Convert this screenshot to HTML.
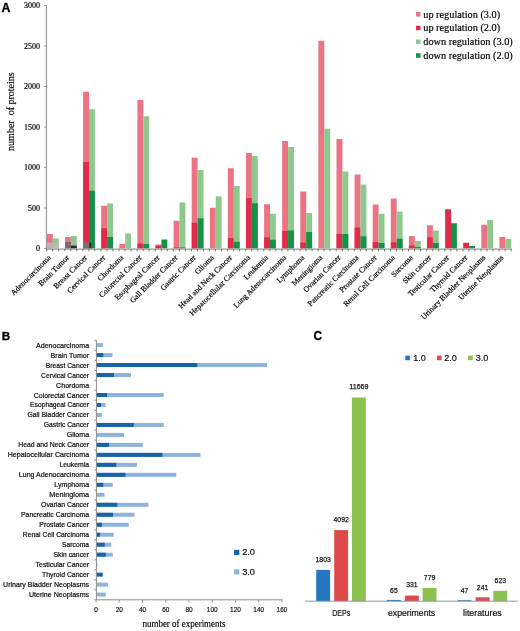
<!DOCTYPE html>
<html><head><meta charset="utf-8"><style>
html,body{margin:0;padding:0;background:#fff;}
svg{display:block;will-change:transform;}
</style></head><body>
<svg width="520" height="631" viewBox="0 0 520 631" shape-rendering="auto">
<rect x="46.90" y="234.00" width="5.90" height="14.40" fill="#ec7383"/>
<rect x="52.80" y="238.30" width="5.90" height="10.10" fill="#8dc98d"/>
<rect x="65.00" y="237.00" width="5.90" height="11.40" fill="#ec7383"/>
<rect x="70.90" y="236.00" width="5.90" height="12.40" fill="#8dc98d"/>
<rect x="83.10" y="91.75" width="5.90" height="156.65" fill="#ec7383"/>
<rect x="83.10" y="162.00" width="5.90" height="86.40" fill="#e02c4a"/>
<rect x="89.00" y="109.25" width="5.90" height="139.15" fill="#8dc98d"/>
<rect x="89.00" y="190.75" width="5.90" height="57.65" fill="#159247"/>
<rect x="101.20" y="205.75" width="5.90" height="42.65" fill="#ec7383"/>
<rect x="101.20" y="228.25" width="5.90" height="20.15" fill="#e02c4a"/>
<rect x="107.10" y="203.50" width="5.90" height="44.90" fill="#8dc98d"/>
<rect x="107.10" y="237.00" width="5.90" height="11.40" fill="#159247"/>
<rect x="119.30" y="244.00" width="5.90" height="4.40" fill="#ec7383"/>
<rect x="125.20" y="233.50" width="5.90" height="14.90" fill="#8dc98d"/>
<rect x="137.40" y="100.00" width="5.90" height="148.40" fill="#ec7383"/>
<rect x="137.40" y="243.50" width="5.90" height="4.90" fill="#e02c4a"/>
<rect x="143.30" y="116.25" width="5.90" height="132.15" fill="#8dc98d"/>
<rect x="143.30" y="244.00" width="5.90" height="4.40" fill="#159247"/>
<rect x="155.50" y="244.50" width="5.90" height="3.90" fill="#ec7383"/>
<rect x="155.50" y="245.80" width="5.90" height="2.60" fill="#e02c4a"/>
<rect x="161.40" y="239.50" width="5.90" height="8.90" fill="#159247"/>
<rect x="173.60" y="220.75" width="5.90" height="27.65" fill="#ec7383"/>
<rect x="173.60" y="247.50" width="5.90" height="0.90" fill="#e02c4a"/>
<rect x="179.50" y="202.50" width="5.90" height="45.90" fill="#8dc98d"/>
<rect x="179.50" y="247.50" width="5.90" height="0.90" fill="#159247"/>
<rect x="191.70" y="157.75" width="5.90" height="90.65" fill="#ec7383"/>
<rect x="191.70" y="222.75" width="5.90" height="25.65" fill="#e02c4a"/>
<rect x="197.60" y="170.00" width="5.90" height="78.40" fill="#8dc98d"/>
<rect x="197.60" y="218.25" width="5.90" height="30.15" fill="#159247"/>
<rect x="209.80" y="207.75" width="5.90" height="40.65" fill="#ec7383"/>
<rect x="215.70" y="196.25" width="5.90" height="52.15" fill="#8dc98d"/>
<rect x="227.90" y="168.25" width="5.90" height="80.15" fill="#ec7383"/>
<rect x="227.90" y="238.00" width="5.90" height="10.40" fill="#e02c4a"/>
<rect x="233.80" y="186.00" width="5.90" height="62.40" fill="#8dc98d"/>
<rect x="233.80" y="241.75" width="5.90" height="6.65" fill="#159247"/>
<rect x="246.00" y="153.00" width="5.90" height="95.40" fill="#ec7383"/>
<rect x="246.00" y="198.00" width="5.90" height="50.40" fill="#e02c4a"/>
<rect x="251.90" y="156.00" width="5.90" height="92.40" fill="#8dc98d"/>
<rect x="251.90" y="203.25" width="5.90" height="45.15" fill="#159247"/>
<rect x="264.10" y="204.25" width="5.90" height="44.15" fill="#ec7383"/>
<rect x="264.10" y="237.25" width="5.90" height="11.15" fill="#e02c4a"/>
<rect x="270.00" y="213.75" width="5.90" height="34.65" fill="#8dc98d"/>
<rect x="270.00" y="239.75" width="5.90" height="8.65" fill="#159247"/>
<rect x="282.20" y="141.00" width="5.90" height="107.40" fill="#ec7383"/>
<rect x="282.20" y="231.00" width="5.90" height="17.40" fill="#e02c4a"/>
<rect x="288.10" y="147.00" width="5.90" height="101.40" fill="#8dc98d"/>
<rect x="288.10" y="230.50" width="5.90" height="17.90" fill="#159247"/>
<rect x="300.30" y="191.50" width="5.90" height="56.90" fill="#ec7383"/>
<rect x="300.30" y="242.50" width="5.90" height="5.90" fill="#e02c4a"/>
<rect x="306.20" y="213.00" width="5.90" height="35.40" fill="#8dc98d"/>
<rect x="306.20" y="232.00" width="5.90" height="16.40" fill="#159247"/>
<rect x="318.40" y="40.75" width="5.90" height="207.65" fill="#ec7383"/>
<rect x="324.30" y="128.75" width="5.90" height="119.65" fill="#8dc98d"/>
<rect x="336.50" y="139.00" width="5.90" height="109.40" fill="#ec7383"/>
<rect x="336.50" y="234.00" width="5.90" height="14.40" fill="#e02c4a"/>
<rect x="342.40" y="171.50" width="5.90" height="76.90" fill="#8dc98d"/>
<rect x="342.40" y="234.00" width="5.90" height="14.40" fill="#159247"/>
<rect x="354.60" y="174.50" width="5.90" height="73.90" fill="#ec7383"/>
<rect x="354.60" y="227.50" width="5.90" height="20.90" fill="#e02c4a"/>
<rect x="360.50" y="184.50" width="5.90" height="63.90" fill="#8dc98d"/>
<rect x="360.50" y="236.25" width="5.90" height="12.15" fill="#159247"/>
<rect x="372.70" y="204.50" width="5.90" height="43.90" fill="#ec7383"/>
<rect x="372.70" y="242.00" width="5.90" height="6.40" fill="#e02c4a"/>
<rect x="378.60" y="213.75" width="5.90" height="34.65" fill="#8dc98d"/>
<rect x="378.60" y="243.00" width="5.90" height="5.40" fill="#159247"/>
<rect x="390.80" y="198.50" width="5.90" height="49.90" fill="#ec7383"/>
<rect x="390.80" y="242.25" width="5.90" height="6.15" fill="#e02c4a"/>
<rect x="396.70" y="211.75" width="5.90" height="36.65" fill="#8dc98d"/>
<rect x="396.70" y="238.75" width="5.90" height="9.65" fill="#159247"/>
<rect x="408.90" y="236.00" width="5.90" height="12.40" fill="#ec7383"/>
<rect x="408.90" y="245.50" width="5.90" height="2.90" fill="#e02c4a"/>
<rect x="414.80" y="241.00" width="5.90" height="7.40" fill="#8dc98d"/>
<rect x="414.80" y="247.00" width="5.90" height="1.40" fill="#159247"/>
<rect x="427.00" y="225.25" width="5.90" height="23.15" fill="#ec7383"/>
<rect x="427.00" y="237.25" width="5.90" height="11.15" fill="#e02c4a"/>
<rect x="432.90" y="230.50" width="5.90" height="17.90" fill="#8dc98d"/>
<rect x="432.90" y="243.00" width="5.90" height="5.40" fill="#159247"/>
<rect x="445.10" y="209.25" width="5.90" height="39.15" fill="#e02c4a"/>
<rect x="451.00" y="223.25" width="5.90" height="25.15" fill="#159247"/>
<rect x="463.20" y="242.75" width="5.90" height="5.65" fill="#e02c4a"/>
<rect x="469.10" y="246.00" width="5.90" height="2.40" fill="#159247"/>
<rect x="481.30" y="224.75" width="5.90" height="23.65" fill="#ec7383"/>
<rect x="487.20" y="220.00" width="5.90" height="28.40" fill="#8dc98d"/>
<rect x="499.40" y="237.00" width="5.90" height="11.40" fill="#ec7383"/>
<rect x="505.30" y="239.00" width="5.90" height="9.40" fill="#8dc98d"/>
<rect x="46.90" y="242.50" width="5.90" height="5.90" fill="#bfb0b4"/>
<rect x="52.80" y="242.50" width="5.90" height="5.90" fill="#b6bcb6"/>
<rect x="65.00" y="242.00" width="5.90" height="6.40" fill="#7a6a6e"/>
<rect x="70.90" y="242.50" width="5.90" height="3.20" fill="#a8b8a8"/>
<rect x="70.90" y="245.70" width="5.90" height="2.70" fill="#2a2a2a"/>
<rect x="83.10" y="242.50" width="5.90" height="5.90" fill="#7c7074"/>
<rect x="89.00" y="242.50" width="2.60" height="5.90" fill="#2e3a30"/>
<line x1="46.40" y1="5.00" x2="46.40" y2="249.50" stroke="#8c8c8c" stroke-width="1"/>
<line x1="44.30" y1="5.50" x2="46.40" y2="5.50" stroke="#8c8c8c" stroke-width="1"/>
<text x="40.00" y="8.30" font-size="8" font-family='"Liberation Serif", serif' text-anchor="end" fill="#000"  stroke="#000" stroke-width="0.18">3000</text>
<line x1="44.30" y1="46.00" x2="46.40" y2="46.00" stroke="#8c8c8c" stroke-width="1"/>
<text x="40.00" y="48.80" font-size="8" font-family='"Liberation Serif", serif' text-anchor="end" fill="#000"  stroke="#000" stroke-width="0.18">2500</text>
<line x1="44.30" y1="86.50" x2="46.40" y2="86.50" stroke="#8c8c8c" stroke-width="1"/>
<text x="40.00" y="89.30" font-size="8" font-family='"Liberation Serif", serif' text-anchor="end" fill="#000"  stroke="#000" stroke-width="0.18">2000</text>
<line x1="44.30" y1="127.00" x2="46.40" y2="127.00" stroke="#8c8c8c" stroke-width="1"/>
<text x="40.00" y="129.80" font-size="8" font-family='"Liberation Serif", serif' text-anchor="end" fill="#000"  stroke="#000" stroke-width="0.18">1500</text>
<line x1="44.30" y1="167.50" x2="46.40" y2="167.50" stroke="#8c8c8c" stroke-width="1"/>
<text x="40.00" y="170.30" font-size="8" font-family='"Liberation Serif", serif' text-anchor="end" fill="#000"  stroke="#000" stroke-width="0.18">1000</text>
<line x1="44.30" y1="208.00" x2="46.40" y2="208.00" stroke="#8c8c8c" stroke-width="1"/>
<text x="40.00" y="210.80" font-size="8" font-family='"Liberation Serif", serif' text-anchor="end" fill="#000"  stroke="#000" stroke-width="0.18">500</text>
<line x1="44.30" y1="248.50" x2="46.40" y2="248.50" stroke="#8c8c8c" stroke-width="1"/>
<text x="40.00" y="251.30" font-size="8" font-family='"Liberation Serif", serif' text-anchor="end" fill="#000"  stroke="#000" stroke-width="0.18">0</text>
<line x1="46.10" y1="249.10" x2="512.00" y2="249.10" stroke="#9a9a9a" stroke-width="1.4"/>
<line x1="46.60" y1="249.00" x2="46.60" y2="251.30" stroke="#7a7a7a" stroke-width="1.1"/>
<line x1="52.63" y1="249.00" x2="52.63" y2="251.30" stroke="#7a7a7a" stroke-width="1.1"/>
<line x1="58.67" y1="249.00" x2="58.67" y2="251.30" stroke="#7a7a7a" stroke-width="1.1"/>
<line x1="64.70" y1="249.00" x2="64.70" y2="251.30" stroke="#7a7a7a" stroke-width="1.1"/>
<line x1="70.73" y1="249.00" x2="70.73" y2="251.30" stroke="#7a7a7a" stroke-width="1.1"/>
<line x1="76.77" y1="249.00" x2="76.77" y2="251.30" stroke="#7a7a7a" stroke-width="1.1"/>
<line x1="82.80" y1="249.00" x2="82.80" y2="251.30" stroke="#7a7a7a" stroke-width="1.1"/>
<line x1="88.83" y1="249.00" x2="88.83" y2="251.30" stroke="#7a7a7a" stroke-width="1.1"/>
<line x1="94.86" y1="249.00" x2="94.86" y2="251.30" stroke="#7a7a7a" stroke-width="1.1"/>
<line x1="100.90" y1="249.00" x2="100.90" y2="251.30" stroke="#7a7a7a" stroke-width="1.1"/>
<line x1="106.93" y1="249.00" x2="106.93" y2="251.30" stroke="#7a7a7a" stroke-width="1.1"/>
<line x1="112.96" y1="249.00" x2="112.96" y2="251.30" stroke="#7a7a7a" stroke-width="1.1"/>
<line x1="119.00" y1="249.00" x2="119.00" y2="251.30" stroke="#7a7a7a" stroke-width="1.1"/>
<line x1="125.03" y1="249.00" x2="125.03" y2="251.30" stroke="#7a7a7a" stroke-width="1.1"/>
<line x1="131.06" y1="249.00" x2="131.06" y2="251.30" stroke="#7a7a7a" stroke-width="1.1"/>
<line x1="137.09" y1="249.00" x2="137.09" y2="251.30" stroke="#7a7a7a" stroke-width="1.1"/>
<line x1="143.13" y1="249.00" x2="143.13" y2="251.30" stroke="#7a7a7a" stroke-width="1.1"/>
<line x1="149.16" y1="249.00" x2="149.16" y2="251.30" stroke="#7a7a7a" stroke-width="1.1"/>
<line x1="155.19" y1="249.00" x2="155.19" y2="251.30" stroke="#7a7a7a" stroke-width="1.1"/>
<line x1="161.23" y1="249.00" x2="161.23" y2="251.30" stroke="#7a7a7a" stroke-width="1.1"/>
<line x1="167.26" y1="249.00" x2="167.26" y2="251.30" stroke="#7a7a7a" stroke-width="1.1"/>
<line x1="173.29" y1="249.00" x2="173.29" y2="251.30" stroke="#7a7a7a" stroke-width="1.1"/>
<line x1="179.33" y1="249.00" x2="179.33" y2="251.30" stroke="#7a7a7a" stroke-width="1.1"/>
<line x1="185.36" y1="249.00" x2="185.36" y2="251.30" stroke="#7a7a7a" stroke-width="1.1"/>
<line x1="191.39" y1="249.00" x2="191.39" y2="251.30" stroke="#7a7a7a" stroke-width="1.1"/>
<line x1="197.43" y1="249.00" x2="197.43" y2="251.30" stroke="#7a7a7a" stroke-width="1.1"/>
<line x1="203.46" y1="249.00" x2="203.46" y2="251.30" stroke="#7a7a7a" stroke-width="1.1"/>
<line x1="209.49" y1="249.00" x2="209.49" y2="251.30" stroke="#7a7a7a" stroke-width="1.1"/>
<line x1="215.52" y1="249.00" x2="215.52" y2="251.30" stroke="#7a7a7a" stroke-width="1.1"/>
<line x1="221.56" y1="249.00" x2="221.56" y2="251.30" stroke="#7a7a7a" stroke-width="1.1"/>
<line x1="227.59" y1="249.00" x2="227.59" y2="251.30" stroke="#7a7a7a" stroke-width="1.1"/>
<line x1="233.62" y1="249.00" x2="233.62" y2="251.30" stroke="#7a7a7a" stroke-width="1.1"/>
<line x1="239.66" y1="249.00" x2="239.66" y2="251.30" stroke="#7a7a7a" stroke-width="1.1"/>
<line x1="245.69" y1="249.00" x2="245.69" y2="251.30" stroke="#7a7a7a" stroke-width="1.1"/>
<line x1="251.72" y1="249.00" x2="251.72" y2="251.30" stroke="#7a7a7a" stroke-width="1.1"/>
<line x1="257.75" y1="249.00" x2="257.75" y2="251.30" stroke="#7a7a7a" stroke-width="1.1"/>
<line x1="263.79" y1="249.00" x2="263.79" y2="251.30" stroke="#7a7a7a" stroke-width="1.1"/>
<line x1="269.82" y1="249.00" x2="269.82" y2="251.30" stroke="#7a7a7a" stroke-width="1.1"/>
<line x1="275.85" y1="249.00" x2="275.85" y2="251.30" stroke="#7a7a7a" stroke-width="1.1"/>
<line x1="281.89" y1="249.00" x2="281.89" y2="251.30" stroke="#7a7a7a" stroke-width="1.1"/>
<line x1="287.92" y1="249.00" x2="287.92" y2="251.30" stroke="#7a7a7a" stroke-width="1.1"/>
<line x1="293.95" y1="249.00" x2="293.95" y2="251.30" stroke="#7a7a7a" stroke-width="1.1"/>
<line x1="299.99" y1="249.00" x2="299.99" y2="251.30" stroke="#7a7a7a" stroke-width="1.1"/>
<line x1="306.02" y1="249.00" x2="306.02" y2="251.30" stroke="#7a7a7a" stroke-width="1.1"/>
<line x1="312.05" y1="249.00" x2="312.05" y2="251.30" stroke="#7a7a7a" stroke-width="1.1"/>
<line x1="318.09" y1="249.00" x2="318.09" y2="251.30" stroke="#7a7a7a" stroke-width="1.1"/>
<line x1="324.12" y1="249.00" x2="324.12" y2="251.30" stroke="#7a7a7a" stroke-width="1.1"/>
<line x1="330.15" y1="249.00" x2="330.15" y2="251.30" stroke="#7a7a7a" stroke-width="1.1"/>
<line x1="336.18" y1="249.00" x2="336.18" y2="251.30" stroke="#7a7a7a" stroke-width="1.1"/>
<line x1="342.22" y1="249.00" x2="342.22" y2="251.30" stroke="#7a7a7a" stroke-width="1.1"/>
<line x1="348.25" y1="249.00" x2="348.25" y2="251.30" stroke="#7a7a7a" stroke-width="1.1"/>
<line x1="354.28" y1="249.00" x2="354.28" y2="251.30" stroke="#7a7a7a" stroke-width="1.1"/>
<line x1="360.32" y1="249.00" x2="360.32" y2="251.30" stroke="#7a7a7a" stroke-width="1.1"/>
<line x1="366.35" y1="249.00" x2="366.35" y2="251.30" stroke="#7a7a7a" stroke-width="1.1"/>
<line x1="372.38" y1="249.00" x2="372.38" y2="251.30" stroke="#7a7a7a" stroke-width="1.1"/>
<line x1="378.42" y1="249.00" x2="378.42" y2="251.30" stroke="#7a7a7a" stroke-width="1.1"/>
<line x1="384.45" y1="249.00" x2="384.45" y2="251.30" stroke="#7a7a7a" stroke-width="1.1"/>
<line x1="390.48" y1="249.00" x2="390.48" y2="251.30" stroke="#7a7a7a" stroke-width="1.1"/>
<line x1="396.51" y1="249.00" x2="396.51" y2="251.30" stroke="#7a7a7a" stroke-width="1.1"/>
<line x1="402.55" y1="249.00" x2="402.55" y2="251.30" stroke="#7a7a7a" stroke-width="1.1"/>
<line x1="408.58" y1="249.00" x2="408.58" y2="251.30" stroke="#7a7a7a" stroke-width="1.1"/>
<line x1="414.61" y1="249.00" x2="414.61" y2="251.30" stroke="#7a7a7a" stroke-width="1.1"/>
<line x1="420.65" y1="249.00" x2="420.65" y2="251.30" stroke="#7a7a7a" stroke-width="1.1"/>
<line x1="426.68" y1="249.00" x2="426.68" y2="251.30" stroke="#7a7a7a" stroke-width="1.1"/>
<line x1="432.71" y1="249.00" x2="432.71" y2="251.30" stroke="#7a7a7a" stroke-width="1.1"/>
<line x1="438.75" y1="249.00" x2="438.75" y2="251.30" stroke="#7a7a7a" stroke-width="1.1"/>
<line x1="444.78" y1="249.00" x2="444.78" y2="251.30" stroke="#7a7a7a" stroke-width="1.1"/>
<line x1="450.81" y1="249.00" x2="450.81" y2="251.30" stroke="#7a7a7a" stroke-width="1.1"/>
<line x1="456.84" y1="249.00" x2="456.84" y2="251.30" stroke="#7a7a7a" stroke-width="1.1"/>
<line x1="462.88" y1="249.00" x2="462.88" y2="251.30" stroke="#7a7a7a" stroke-width="1.1"/>
<line x1="468.91" y1="249.00" x2="468.91" y2="251.30" stroke="#7a7a7a" stroke-width="1.1"/>
<line x1="474.94" y1="249.00" x2="474.94" y2="251.30" stroke="#7a7a7a" stroke-width="1.1"/>
<line x1="480.98" y1="249.00" x2="480.98" y2="251.30" stroke="#7a7a7a" stroke-width="1.1"/>
<line x1="487.01" y1="249.00" x2="487.01" y2="251.30" stroke="#7a7a7a" stroke-width="1.1"/>
<line x1="493.04" y1="249.00" x2="493.04" y2="251.30" stroke="#7a7a7a" stroke-width="1.1"/>
<line x1="499.08" y1="249.00" x2="499.08" y2="251.30" stroke="#7a7a7a" stroke-width="1.1"/>
<line x1="505.11" y1="249.00" x2="505.11" y2="251.30" stroke="#7a7a7a" stroke-width="1.1"/>
<line x1="511.14" y1="249.00" x2="511.14" y2="251.30" stroke="#7a7a7a" stroke-width="1.1"/>
<text x="0.00" y="0.00" font-size="7.8" font-family='"Liberation Serif", serif' text-anchor="end" fill="#000" transform="translate(51.50,258.10) rotate(-45)" stroke="#000" stroke-width="0.18">Adenocarcinoma</text>
<text x="0.00" y="0.00" font-size="7.8" font-family='"Liberation Serif", serif' text-anchor="end" fill="#000" transform="translate(69.60,258.10) rotate(-45)" stroke="#000" stroke-width="0.18">Brain Tumor</text>
<text x="0.00" y="0.00" font-size="7.8" font-family='"Liberation Serif", serif' text-anchor="end" fill="#000" transform="translate(87.70,258.10) rotate(-45)" stroke="#000" stroke-width="0.18">Breast Cancer</text>
<text x="0.00" y="0.00" font-size="7.8" font-family='"Liberation Serif", serif' text-anchor="end" fill="#000" transform="translate(105.80,258.10) rotate(-45)" stroke="#000" stroke-width="0.18">Cervical Cancer</text>
<text x="0.00" y="0.00" font-size="7.8" font-family='"Liberation Serif", serif' text-anchor="end" fill="#000" transform="translate(123.90,258.10) rotate(-45)" stroke="#000" stroke-width="0.18">Chordoma</text>
<text x="0.00" y="0.00" font-size="7.8" font-family='"Liberation Serif", serif' text-anchor="end" fill="#000" transform="translate(142.00,258.10) rotate(-45)" stroke="#000" stroke-width="0.18">Colorectal Cancer</text>
<text x="0.00" y="0.00" font-size="7.8" font-family='"Liberation Serif", serif' text-anchor="end" fill="#000" transform="translate(160.10,258.10) rotate(-45)" stroke="#000" stroke-width="0.18">Esophageal Cancer</text>
<text x="0.00" y="0.00" font-size="7.8" font-family='"Liberation Serif", serif' text-anchor="end" fill="#000" transform="translate(178.20,258.10) rotate(-45)" stroke="#000" stroke-width="0.18">Gall Bladder Cancer</text>
<text x="0.00" y="0.00" font-size="7.8" font-family='"Liberation Serif", serif' text-anchor="end" fill="#000" transform="translate(196.30,258.10) rotate(-45)" stroke="#000" stroke-width="0.18">Gastric Cancer</text>
<text x="0.00" y="0.00" font-size="7.8" font-family='"Liberation Serif", serif' text-anchor="end" fill="#000" transform="translate(214.40,258.10) rotate(-45)" stroke="#000" stroke-width="0.18">Glioma</text>
<text x="0.00" y="0.00" font-size="7.8" font-family='"Liberation Serif", serif' text-anchor="end" fill="#000" transform="translate(232.50,258.10) rotate(-45)" stroke="#000" stroke-width="0.18">Head and Neck Cancer</text>
<text x="0.00" y="0.00" font-size="7.8" font-family='"Liberation Serif", serif' text-anchor="end" fill="#000" transform="translate(250.60,258.10) rotate(-45)" stroke="#000" stroke-width="0.18">Hepatocellular Carcinoma</text>
<text x="0.00" y="0.00" font-size="7.8" font-family='"Liberation Serif", serif' text-anchor="end" fill="#000" transform="translate(268.70,258.10) rotate(-45)" stroke="#000" stroke-width="0.18">Leukemia</text>
<text x="0.00" y="0.00" font-size="7.8" font-family='"Liberation Serif", serif' text-anchor="end" fill="#000" transform="translate(286.80,258.10) rotate(-45)" stroke="#000" stroke-width="0.18">Lung Adenocarcinoma</text>
<text x="0.00" y="0.00" font-size="7.8" font-family='"Liberation Serif", serif' text-anchor="end" fill="#000" transform="translate(304.90,258.10) rotate(-45)" stroke="#000" stroke-width="0.18">Lymphoma</text>
<text x="0.00" y="0.00" font-size="7.8" font-family='"Liberation Serif", serif' text-anchor="end" fill="#000" transform="translate(323.00,258.10) rotate(-45)" stroke="#000" stroke-width="0.18">Meningioma</text>
<text x="0.00" y="0.00" font-size="7.8" font-family='"Liberation Serif", serif' text-anchor="end" fill="#000" transform="translate(341.10,258.10) rotate(-45)" stroke="#000" stroke-width="0.18">Ovarian Cancer</text>
<text x="0.00" y="0.00" font-size="7.8" font-family='"Liberation Serif", serif' text-anchor="end" fill="#000" transform="translate(359.20,258.10) rotate(-45)" stroke="#000" stroke-width="0.18">Pancreatic Carcinoma</text>
<text x="0.00" y="0.00" font-size="7.8" font-family='"Liberation Serif", serif' text-anchor="end" fill="#000" transform="translate(377.30,258.10) rotate(-45)" stroke="#000" stroke-width="0.18">Prostate Cancer</text>
<text x="0.00" y="0.00" font-size="7.8" font-family='"Liberation Serif", serif' text-anchor="end" fill="#000" transform="translate(395.40,258.10) rotate(-45)" stroke="#000" stroke-width="0.18">Renal Cell Carcinoma</text>
<text x="0.00" y="0.00" font-size="7.8" font-family='"Liberation Serif", serif' text-anchor="end" fill="#000" transform="translate(413.50,258.10) rotate(-45)" stroke="#000" stroke-width="0.18">Sarcoma</text>
<text x="0.00" y="0.00" font-size="7.8" font-family='"Liberation Serif", serif' text-anchor="end" fill="#000" transform="translate(431.60,258.10) rotate(-45)" stroke="#000" stroke-width="0.18">Skin cancer</text>
<text x="0.00" y="0.00" font-size="7.8" font-family='"Liberation Serif", serif' text-anchor="end" fill="#000" transform="translate(449.70,258.10) rotate(-45)" stroke="#000" stroke-width="0.18">Testicular Cancer</text>
<text x="0.00" y="0.00" font-size="7.8" font-family='"Liberation Serif", serif' text-anchor="end" fill="#000" transform="translate(467.80,258.10) rotate(-45)" stroke="#000" stroke-width="0.18">Thyroid Cancer</text>
<text x="0.00" y="0.00" font-size="7.8" font-family='"Liberation Serif", serif' text-anchor="end" fill="#000" transform="translate(485.90,258.10) rotate(-45)" stroke="#000" stroke-width="0.18">Urinary Bladder Neoplasms</text>
<text x="0.00" y="0.00" font-size="7.8" font-family='"Liberation Serif", serif' text-anchor="end" fill="#000" transform="translate(504.00,258.10) rotate(-45)" stroke="#000" stroke-width="0.18">Uterine Neoplasms</text>
<text x="0.00" y="0.00" font-size="10" font-family='"Liberation Serif", serif' text-anchor="middle" fill="#000" transform="translate(14.2,111.6) rotate(-90)" stroke="#000" stroke-width="0.18">number&#160; of proteins</text>
<rect x="416.00" y="12.00" width="4.50" height="4.50" fill="#ec7383"/>
<text x="423.25" y="17.65" font-size="10.3" font-family='"Liberation Serif", serif' text-anchor="start" fill="#000"  stroke="#000" stroke-width="0.18">up regulation (3.0)</text>
<rect x="416.00" y="25.75" width="4.50" height="4.50" fill="#e02c4a"/>
<text x="423.25" y="31.40" font-size="10.3" font-family='"Liberation Serif", serif' text-anchor="start" fill="#000"  stroke="#000" stroke-width="0.18">up regulation (2.0)</text>
<rect x="416.00" y="39.50" width="4.50" height="4.50" fill="#8dc98d"/>
<text x="423.25" y="45.15" font-size="10.3" font-family='"Liberation Serif", serif' text-anchor="start" fill="#000"  stroke="#000" stroke-width="0.18">down regulation (3.0)</text>
<rect x="416.00" y="53.25" width="4.50" height="4.50" fill="#159247"/>
<text x="423.25" y="58.90" font-size="10.3" font-family='"Liberation Serif", serif' text-anchor="start" fill="#000"  stroke="#000" stroke-width="0.18">down regulation (2.0)</text>
<text x="1.60" y="11.80" font-size="12.3" font-family='"Liberation Sans", sans-serif' text-anchor="start" fill="#000" font-weight="bold" stroke="#000" stroke-width="0.3">A</text>
<rect x="96.50" y="343.10" width="6.50" height="4.00" fill="#8db3dc"/>
<text x="89.10" y="347.60" font-size="7.5" font-family='"Liberation Sans", sans-serif' text-anchor="end" fill="#111"  textLength="53.10" lengthAdjust="spacingAndGlyphs" stroke="#111" stroke-width="0.22">Adenocarcinoma</text>
<rect x="96.50" y="353.08" width="16.00" height="4.00" fill="#8db3dc"/>
<rect x="96.50" y="353.08" width="6.75" height="4.00" fill="#1563a8"/>
<text x="89.10" y="357.58" font-size="7.5" font-family='"Liberation Sans", sans-serif' text-anchor="end" fill="#111"  textLength="38.50" lengthAdjust="spacingAndGlyphs" stroke="#111" stroke-width="0.22">Brain Tumor</text>
<rect x="96.50" y="363.06" width="170.50" height="4.00" fill="#8db3dc"/>
<rect x="96.50" y="363.06" width="100.75" height="4.00" fill="#1563a8"/>
<text x="89.10" y="367.56" font-size="7.5" font-family='"Liberation Sans", sans-serif' text-anchor="end" fill="#111"  textLength="43.40" lengthAdjust="spacingAndGlyphs" stroke="#111" stroke-width="0.22">Breast Cancer</text>
<rect x="96.50" y="373.04" width="34.50" height="4.00" fill="#8db3dc"/>
<rect x="96.50" y="373.04" width="17.50" height="4.00" fill="#1563a8"/>
<text x="89.10" y="377.54" font-size="7.5" font-family='"Liberation Sans", sans-serif' text-anchor="end" fill="#111"  textLength="48.00" lengthAdjust="spacingAndGlyphs" stroke="#111" stroke-width="0.22">Cervical Cancer</text>
<rect x="96.50" y="383.02" width="0.50" height="4.00" fill="#8db3dc"/>
<text x="89.10" y="387.52" font-size="7.5" font-family='"Liberation Sans", sans-serif' text-anchor="end" fill="#111"  textLength="33.00" lengthAdjust="spacingAndGlyphs" stroke="#111" stroke-width="0.22">Chordoma</text>
<rect x="96.50" y="393.00" width="67.25" height="4.00" fill="#8db3dc"/>
<rect x="96.50" y="393.00" width="10.50" height="4.00" fill="#1563a8"/>
<text x="89.10" y="397.50" font-size="7.5" font-family='"Liberation Sans", sans-serif' text-anchor="end" fill="#111"  textLength="55.30" lengthAdjust="spacingAndGlyphs" stroke="#111" stroke-width="0.22">Colorectal Cancer</text>
<rect x="96.50" y="402.98" width="9.00" height="4.00" fill="#8db3dc"/>
<rect x="96.50" y="402.98" width="4.50" height="4.00" fill="#1563a8"/>
<text x="89.10" y="407.48" font-size="7.5" font-family='"Liberation Sans", sans-serif' text-anchor="end" fill="#111"  textLength="59.00" lengthAdjust="spacingAndGlyphs" stroke="#111" stroke-width="0.22">Esophageal Cancer</text>
<rect x="96.50" y="412.96" width="5.50" height="4.00" fill="#8db3dc"/>
<text x="89.10" y="417.46" font-size="7.5" font-family='"Liberation Sans", sans-serif' text-anchor="end" fill="#111"  textLength="61.70" lengthAdjust="spacingAndGlyphs" stroke="#111" stroke-width="0.22">Gall Bladder Cancer</text>
<rect x="96.50" y="422.94" width="67.25" height="4.00" fill="#8db3dc"/>
<rect x="96.50" y="422.94" width="37.25" height="4.00" fill="#1563a8"/>
<text x="89.10" y="427.44" font-size="7.5" font-family='"Liberation Sans", sans-serif' text-anchor="end" fill="#111"  textLength="45.30" lengthAdjust="spacingAndGlyphs" stroke="#111" stroke-width="0.22">Gastric Cancer</text>
<rect x="96.50" y="432.92" width="27.50" height="4.00" fill="#8db3dc"/>
<text x="89.10" y="437.42" font-size="7.5" font-family='"Liberation Sans", sans-serif' text-anchor="end" fill="#111"  textLength="22.40" lengthAdjust="spacingAndGlyphs" stroke="#111" stroke-width="0.22">Glioma</text>
<rect x="96.50" y="442.90" width="46.25" height="4.00" fill="#8db3dc"/>
<rect x="96.50" y="442.90" width="12.50" height="4.00" fill="#1563a8"/>
<text x="89.10" y="447.40" font-size="7.5" font-family='"Liberation Sans", sans-serif' text-anchor="end" fill="#111"  textLength="70.80" lengthAdjust="spacingAndGlyphs" stroke="#111" stroke-width="0.22">Head and Neck Cancer</text>
<rect x="96.50" y="452.88" width="104.00" height="4.00" fill="#8db3dc"/>
<rect x="96.50" y="452.88" width="66.00" height="4.00" fill="#1563a8"/>
<text x="89.10" y="457.38" font-size="7.5" font-family='"Liberation Sans", sans-serif' text-anchor="end" fill="#111"  textLength="81.40" lengthAdjust="spacingAndGlyphs" stroke="#111" stroke-width="0.22">Hepatocellular Carcinoma</text>
<rect x="96.50" y="462.86" width="40.50" height="4.00" fill="#8db3dc"/>
<rect x="96.50" y="462.86" width="19.75" height="4.00" fill="#1563a8"/>
<text x="89.10" y="467.36" font-size="7.5" font-family='"Liberation Sans", sans-serif' text-anchor="end" fill="#111"  textLength="29.70" lengthAdjust="spacingAndGlyphs" stroke="#111" stroke-width="0.22">Leukemia</text>
<rect x="96.50" y="472.84" width="79.75" height="4.00" fill="#8db3dc"/>
<rect x="96.50" y="472.84" width="29.00" height="4.00" fill="#1563a8"/>
<text x="89.10" y="477.34" font-size="7.5" font-family='"Liberation Sans", sans-serif' text-anchor="end" fill="#111"  textLength="70.30" lengthAdjust="spacingAndGlyphs" stroke="#111" stroke-width="0.22">Lung Adenocarcinoma</text>
<rect x="96.50" y="482.82" width="16.25" height="4.00" fill="#8db3dc"/>
<rect x="96.50" y="482.82" width="6.75" height="4.00" fill="#1563a8"/>
<text x="89.10" y="487.32" font-size="7.5" font-family='"Liberation Sans", sans-serif' text-anchor="end" fill="#111"  textLength="34.80" lengthAdjust="spacingAndGlyphs" stroke="#111" stroke-width="0.22">Lymphoma</text>
<rect x="96.50" y="492.80" width="8.00" height="4.00" fill="#8db3dc"/>
<text x="89.10" y="497.30" font-size="7.5" font-family='"Liberation Sans", sans-serif' text-anchor="end" fill="#111"  textLength="39.80" lengthAdjust="spacingAndGlyphs" stroke="#111" stroke-width="0.22">Meningioma</text>
<rect x="96.50" y="502.78" width="52.00" height="4.00" fill="#8db3dc"/>
<rect x="96.50" y="502.78" width="20.75" height="4.00" fill="#1563a8"/>
<text x="89.10" y="507.28" font-size="7.5" font-family='"Liberation Sans", sans-serif' text-anchor="end" fill="#111"  textLength="48.00" lengthAdjust="spacingAndGlyphs" stroke="#111" stroke-width="0.22">Ovarian Cancer</text>
<rect x="96.50" y="512.76" width="38.00" height="4.00" fill="#8db3dc"/>
<rect x="96.50" y="512.76" width="16.50" height="4.00" fill="#1563a8"/>
<text x="89.10" y="517.26" font-size="7.5" font-family='"Liberation Sans", sans-serif' text-anchor="end" fill="#111"  textLength="68.10" lengthAdjust="spacingAndGlyphs" stroke="#111" stroke-width="0.22">Pancreatic Carcinoma</text>
<rect x="96.50" y="522.74" width="32.25" height="4.00" fill="#8db3dc"/>
<rect x="96.50" y="522.74" width="5.50" height="4.00" fill="#1563a8"/>
<text x="89.10" y="527.24" font-size="7.5" font-family='"Liberation Sans", sans-serif' text-anchor="end" fill="#111"  textLength="49.80" lengthAdjust="spacingAndGlyphs" stroke="#111" stroke-width="0.22">Prostate Cancer</text>
<rect x="96.50" y="532.72" width="17.25" height="4.00" fill="#8db3dc"/>
<rect x="96.50" y="532.72" width="3.50" height="4.00" fill="#1563a8"/>
<text x="89.10" y="537.22" font-size="7.5" font-family='"Liberation Sans", sans-serif' text-anchor="end" fill="#111"  textLength="66.30" lengthAdjust="spacingAndGlyphs" stroke="#111" stroke-width="0.22">Renal Cell Carcinoma</text>
<rect x="96.50" y="542.70" width="14.75" height="4.00" fill="#8db3dc"/>
<rect x="96.50" y="542.70" width="8.25" height="4.00" fill="#1563a8"/>
<text x="89.10" y="547.20" font-size="7.5" font-family='"Liberation Sans", sans-serif' text-anchor="end" fill="#111"  textLength="27.00" lengthAdjust="spacingAndGlyphs" stroke="#111" stroke-width="0.22">Sarcoma</text>
<rect x="96.50" y="552.68" width="16.25" height="4.00" fill="#8db3dc"/>
<rect x="96.50" y="552.68" width="9.25" height="4.00" fill="#1563a8"/>
<text x="89.10" y="557.18" font-size="7.5" font-family='"Liberation Sans", sans-serif' text-anchor="end" fill="#111"  textLength="35.60" lengthAdjust="spacingAndGlyphs" stroke="#111" stroke-width="0.22">Skin cancer</text>
<rect x="96.50" y="562.66" width="0.75" height="4.00" fill="#1563a8"/>
<text x="89.10" y="567.16" font-size="7.5" font-family='"Liberation Sans", sans-serif' text-anchor="end" fill="#111"  textLength="53.50" lengthAdjust="spacingAndGlyphs" stroke="#111" stroke-width="0.22">Testicular Cancer</text>
<rect x="96.50" y="572.64" width="6.25" height="4.00" fill="#1563a8"/>
<text x="89.10" y="577.14" font-size="7.5" font-family='"Liberation Sans", sans-serif' text-anchor="end" fill="#111"  textLength="47.10" lengthAdjust="spacingAndGlyphs" stroke="#111" stroke-width="0.22">Thyroid Cancer</text>
<rect x="96.50" y="582.62" width="11.50" height="4.00" fill="#8db3dc"/>
<text x="89.10" y="587.12" font-size="7.5" font-family='"Liberation Sans", sans-serif' text-anchor="end" fill="#111"  textLength="86.00" lengthAdjust="spacingAndGlyphs" stroke="#111" stroke-width="0.22">Urinary Bladder Neoplasms</text>
<rect x="96.50" y="592.60" width="9.25" height="4.00" fill="#8db3dc"/>
<text x="89.10" y="597.10" font-size="7.5" font-family='"Liberation Sans", sans-serif' text-anchor="end" fill="#111"  textLength="60.20" lengthAdjust="spacingAndGlyphs" stroke="#111" stroke-width="0.22">Uterine Neoplasms</text>
<line x1="96.40" y1="340.30" x2="96.40" y2="600.30" stroke="#8c8c8c" stroke-width="1"/>
<line x1="94.30" y1="340.30" x2="96.40" y2="340.30" stroke="#8c8c8c" stroke-width="1"/>
<line x1="94.30" y1="350.28" x2="96.40" y2="350.28" stroke="#8c8c8c" stroke-width="1"/>
<line x1="94.30" y1="360.26" x2="96.40" y2="360.26" stroke="#8c8c8c" stroke-width="1"/>
<line x1="94.30" y1="370.24" x2="96.40" y2="370.24" stroke="#8c8c8c" stroke-width="1"/>
<line x1="94.30" y1="380.22" x2="96.40" y2="380.22" stroke="#8c8c8c" stroke-width="1"/>
<line x1="94.30" y1="390.20" x2="96.40" y2="390.20" stroke="#8c8c8c" stroke-width="1"/>
<line x1="94.30" y1="400.18" x2="96.40" y2="400.18" stroke="#8c8c8c" stroke-width="1"/>
<line x1="94.30" y1="410.16" x2="96.40" y2="410.16" stroke="#8c8c8c" stroke-width="1"/>
<line x1="94.30" y1="420.14" x2="96.40" y2="420.14" stroke="#8c8c8c" stroke-width="1"/>
<line x1="94.30" y1="430.12" x2="96.40" y2="430.12" stroke="#8c8c8c" stroke-width="1"/>
<line x1="94.30" y1="440.10" x2="96.40" y2="440.10" stroke="#8c8c8c" stroke-width="1"/>
<line x1="94.30" y1="450.08" x2="96.40" y2="450.08" stroke="#8c8c8c" stroke-width="1"/>
<line x1="94.30" y1="460.06" x2="96.40" y2="460.06" stroke="#8c8c8c" stroke-width="1"/>
<line x1="94.30" y1="470.04" x2="96.40" y2="470.04" stroke="#8c8c8c" stroke-width="1"/>
<line x1="94.30" y1="480.02" x2="96.40" y2="480.02" stroke="#8c8c8c" stroke-width="1"/>
<line x1="94.30" y1="490.00" x2="96.40" y2="490.00" stroke="#8c8c8c" stroke-width="1"/>
<line x1="94.30" y1="499.98" x2="96.40" y2="499.98" stroke="#8c8c8c" stroke-width="1"/>
<line x1="94.30" y1="509.96" x2="96.40" y2="509.96" stroke="#8c8c8c" stroke-width="1"/>
<line x1="94.30" y1="519.94" x2="96.40" y2="519.94" stroke="#8c8c8c" stroke-width="1"/>
<line x1="94.30" y1="529.92" x2="96.40" y2="529.92" stroke="#8c8c8c" stroke-width="1"/>
<line x1="94.30" y1="539.90" x2="96.40" y2="539.90" stroke="#8c8c8c" stroke-width="1"/>
<line x1="94.30" y1="549.88" x2="96.40" y2="549.88" stroke="#8c8c8c" stroke-width="1"/>
<line x1="94.30" y1="559.86" x2="96.40" y2="559.86" stroke="#8c8c8c" stroke-width="1"/>
<line x1="94.30" y1="569.84" x2="96.40" y2="569.84" stroke="#8c8c8c" stroke-width="1"/>
<line x1="94.30" y1="579.82" x2="96.40" y2="579.82" stroke="#8c8c8c" stroke-width="1"/>
<line x1="94.30" y1="589.80" x2="96.40" y2="589.80" stroke="#8c8c8c" stroke-width="1"/>
<line x1="94.30" y1="599.78" x2="96.40" y2="599.78" stroke="#8c8c8c" stroke-width="1"/>
<line x1="96.00" y1="599.80" x2="282.50" y2="599.80" stroke="#8c8c8c" stroke-width="1"/>
<line x1="96.00" y1="599.80" x2="96.00" y2="602.50" stroke="#8c8c8c" stroke-width="1"/>
<text x="96.00" y="612.40" font-size="7.5" font-family='"Liberation Sans", sans-serif' text-anchor="middle" fill="#111"  textLength="3.60" lengthAdjust="spacingAndGlyphs" stroke="#111" stroke-width="0.2">0</text>
<line x1="119.25" y1="599.80" x2="119.25" y2="602.50" stroke="#8c8c8c" stroke-width="1"/>
<text x="119.25" y="612.40" font-size="7.5" font-family='"Liberation Sans", sans-serif' text-anchor="middle" fill="#111"  textLength="7.20" lengthAdjust="spacingAndGlyphs" stroke="#111" stroke-width="0.2">20</text>
<line x1="142.50" y1="599.80" x2="142.50" y2="602.50" stroke="#8c8c8c" stroke-width="1"/>
<text x="142.50" y="612.40" font-size="7.5" font-family='"Liberation Sans", sans-serif' text-anchor="middle" fill="#111"  textLength="7.20" lengthAdjust="spacingAndGlyphs" stroke="#111" stroke-width="0.2">40</text>
<line x1="165.75" y1="599.80" x2="165.75" y2="602.50" stroke="#8c8c8c" stroke-width="1"/>
<text x="165.75" y="612.40" font-size="7.5" font-family='"Liberation Sans", sans-serif' text-anchor="middle" fill="#111"  textLength="7.20" lengthAdjust="spacingAndGlyphs" stroke="#111" stroke-width="0.2">60</text>
<line x1="189.00" y1="599.80" x2="189.00" y2="602.50" stroke="#8c8c8c" stroke-width="1"/>
<text x="189.00" y="612.40" font-size="7.5" font-family='"Liberation Sans", sans-serif' text-anchor="middle" fill="#111"  textLength="7.20" lengthAdjust="spacingAndGlyphs" stroke="#111" stroke-width="0.2">80</text>
<line x1="212.25" y1="599.80" x2="212.25" y2="602.50" stroke="#8c8c8c" stroke-width="1"/>
<text x="212.25" y="612.40" font-size="7.5" font-family='"Liberation Sans", sans-serif' text-anchor="middle" fill="#111"  textLength="10.80" lengthAdjust="spacingAndGlyphs" stroke="#111" stroke-width="0.2">100</text>
<line x1="235.50" y1="599.80" x2="235.50" y2="602.50" stroke="#8c8c8c" stroke-width="1"/>
<text x="235.50" y="612.40" font-size="7.5" font-family='"Liberation Sans", sans-serif' text-anchor="middle" fill="#111"  textLength="10.80" lengthAdjust="spacingAndGlyphs" stroke="#111" stroke-width="0.2">120</text>
<line x1="258.75" y1="599.80" x2="258.75" y2="602.50" stroke="#8c8c8c" stroke-width="1"/>
<text x="258.75" y="612.40" font-size="7.5" font-family='"Liberation Sans", sans-serif' text-anchor="middle" fill="#111"  textLength="10.80" lengthAdjust="spacingAndGlyphs" stroke="#111" stroke-width="0.2">140</text>
<line x1="282.00" y1="599.80" x2="282.00" y2="602.50" stroke="#8c8c8c" stroke-width="1"/>
<text x="282.00" y="612.40" font-size="7.5" font-family='"Liberation Sans", sans-serif' text-anchor="middle" fill="#111"  textLength="10.80" lengthAdjust="spacingAndGlyphs" stroke="#111" stroke-width="0.2">160</text>
<text x="142.50" y="626.80" font-size="9.6" font-family='"Liberation Serif", serif' text-anchor="start" fill="#000"  textLength="83.00" lengthAdjust="spacingAndGlyphs" stroke="#000" stroke-width="0.15">number of experiments</text>
<rect x="234.10" y="549.80" width="5.20" height="5.20" fill="#1563a8"/>
<text x="242.20" y="554.90" font-size="9" font-family='"Liberation Sans", sans-serif' text-anchor="start" fill="#111"  textLength="12.80" lengthAdjust="spacingAndGlyphs" stroke="#111" stroke-width="0.2">2.0</text>
<rect x="234.10" y="569.30" width="5.20" height="5.20" fill="#8db3dc"/>
<text x="242.20" y="574.50" font-size="9" font-family='"Liberation Sans", sans-serif' text-anchor="start" fill="#111"  textLength="12.80" lengthAdjust="spacingAndGlyphs" stroke="#111" stroke-width="0.2">3.0</text>
<text x="1.70" y="339.70" font-size="11.7" font-family='"Liberation Sans", sans-serif' text-anchor="start" fill="#000" font-weight="bold" stroke="#000" stroke-width="0.3">B</text>
<rect x="316.20" y="569.90" width="13.90" height="31.10" fill="#2577c0"/>
<text x="323.20" y="562.10" font-size="8.1" font-family='"Liberation Sans", sans-serif' text-anchor="middle" fill="#111"  textLength="15.28" lengthAdjust="spacingAndGlyphs" stroke="#111" stroke-width="0.25">1803</text>
<rect x="334.20" y="530.10" width="13.90" height="70.90" fill="#dc4a4a"/>
<text x="341.20" y="521.80" font-size="8.1" font-family='"Liberation Sans", sans-serif' text-anchor="middle" fill="#111"  textLength="15.28" lengthAdjust="spacingAndGlyphs" stroke="#111" stroke-width="0.25">4092</text>
<rect x="351.90" y="397.50" width="13.90" height="203.50" fill="#8cc04f"/>
<text x="358.90" y="389.10" font-size="8.1" font-family='"Liberation Sans", sans-serif' text-anchor="middle" fill="#111"  textLength="19.10" lengthAdjust="spacingAndGlyphs" stroke="#111" stroke-width="0.25">11669</text>
<rect x="386.90" y="599.90" width="13.90" height="1.10" fill="#2577c0"/>
<text x="393.90" y="592.60" font-size="8.1" font-family='"Liberation Sans", sans-serif' text-anchor="middle" fill="#111"  textLength="7.64" lengthAdjust="spacingAndGlyphs" stroke="#111" stroke-width="0.25">65</text>
<rect x="404.90" y="595.60" width="13.90" height="5.40" fill="#dc4a4a"/>
<text x="411.90" y="586.90" font-size="8.1" font-family='"Liberation Sans", sans-serif' text-anchor="middle" fill="#111"  textLength="11.46" lengthAdjust="spacingAndGlyphs" stroke="#111" stroke-width="0.25">331</text>
<rect x="422.60" y="588.00" width="13.90" height="13.00" fill="#8cc04f"/>
<text x="429.60" y="579.60" font-size="8.1" font-family='"Liberation Sans", sans-serif' text-anchor="middle" fill="#111"  textLength="11.46" lengthAdjust="spacingAndGlyphs" stroke="#111" stroke-width="0.25">779</text>
<rect x="457.60" y="600.20" width="13.90" height="0.80" fill="#2577c0"/>
<text x="464.60" y="592.60" font-size="8.1" font-family='"Liberation Sans", sans-serif' text-anchor="middle" fill="#111"  textLength="7.64" lengthAdjust="spacingAndGlyphs" stroke="#111" stroke-width="0.25">47</text>
<rect x="475.60" y="597.30" width="13.90" height="3.70" fill="#dc4a4a"/>
<text x="482.60" y="589.60" font-size="8.1" font-family='"Liberation Sans", sans-serif' text-anchor="middle" fill="#111"  textLength="11.46" lengthAdjust="spacingAndGlyphs" stroke="#111" stroke-width="0.25">241</text>
<rect x="493.30" y="590.80" width="13.90" height="10.20" fill="#8cc04f"/>
<text x="500.30" y="582.90" font-size="8.1" font-family='"Liberation Sans", sans-serif' text-anchor="middle" fill="#111"  textLength="11.46" lengthAdjust="spacingAndGlyphs" stroke="#111" stroke-width="0.25">623</text>
<line x1="305.40" y1="601.20" x2="517.70" y2="601.20" stroke="#8896a8" stroke-width="1"/>
<text x="332.20" y="616.20" font-size="9" font-family='"Liberation Sans", sans-serif' text-anchor="start" fill="#111"  textLength="18.00" lengthAdjust="spacingAndGlyphs" stroke="#111" stroke-width="0.2">DEPs</text>
<text x="388.00" y="616.20" font-size="9" font-family='"Liberation Sans", sans-serif' text-anchor="start" fill="#111"  textLength="47.20" lengthAdjust="spacingAndGlyphs" stroke="#111" stroke-width="0.2">experiments</text>
<text x="463.00" y="616.20" font-size="9" font-family='"Liberation Sans", sans-serif' text-anchor="start" fill="#111"  textLength="38.70" lengthAdjust="spacingAndGlyphs" stroke="#111" stroke-width="0.2">literatures</text>
<rect x="405.30" y="355.60" width="4.60" height="4.60" fill="#2577c0"/>
<text x="413.20" y="361.30" font-size="9" font-family='"Liberation Sans", sans-serif' text-anchor="start" fill="#111"  textLength="12.60" lengthAdjust="spacingAndGlyphs" stroke="#111" stroke-width="0.2">1.0</text>
<rect x="437.00" y="355.60" width="4.60" height="4.60" fill="#dc4a4a"/>
<text x="444.30" y="361.30" font-size="9" font-family='"Liberation Sans", sans-serif' text-anchor="start" fill="#111"  textLength="12.60" lengthAdjust="spacingAndGlyphs" stroke="#111" stroke-width="0.2">2.0</text>
<rect x="468.20" y="355.60" width="4.60" height="4.60" fill="#8cc04f"/>
<text x="475.70" y="361.30" font-size="9" font-family='"Liberation Sans", sans-serif' text-anchor="start" fill="#111"  textLength="12.60" lengthAdjust="spacingAndGlyphs" stroke="#111" stroke-width="0.2">3.0</text>
<text x="313.60" y="340.00" font-size="12" font-family='"Liberation Sans", sans-serif' text-anchor="start" fill="#000" font-weight="bold" stroke="#000" stroke-width="0.3">C</text>
</svg>
</body></html>
